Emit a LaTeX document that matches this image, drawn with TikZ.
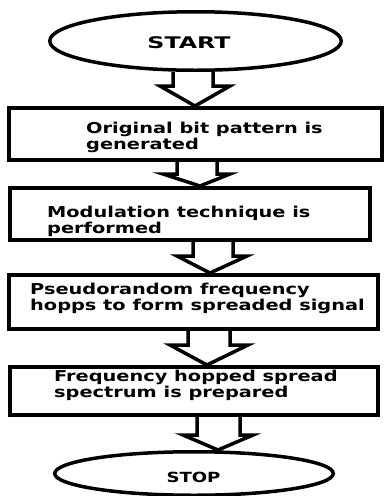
\documentclass[tikz,border=0pt]{standalone}
\usepackage{fontspec}
\usetikzlibrary{shapes.geometric}
\newfontfamily\boxfont[FakeStretch=1.29]{DejaVu Sans Bold}
\newfontfamily\termfont[FakeStretch=1.48]{DejaVu Sans Bold}
\tikzset{
  stepbox/.style={draw=black, line width=4pt, rectangle, inner sep=0pt, fill=white},
  termbox/.style={draw=black, line width=3.5pt, ellipse, inner sep=0pt, fill=white},
  steptext/.style={inner sep=0pt, anchor=base west, align=left, font=\boxfont\fontsize{15}{16}\selectfont},
  blockarrow/.style={draw=black, line width=3.5pt, line join=miter, fill=white},
}
\newcommand\barrow[8]{% from, to, shaftL, shaftR, neck y, headL, headR, tip x
  \draw[blockarrow] (#3,0 |- #1.south) -- (#3,#5) -- (#6,#5) -- (#8,0 |- #2.north)
     -- (#7,#5) -- (#4,#5) -- (#4,0 |- #1.south);
}
\begin{document}
\begin{tikzpicture}[x=1pt,y=-1pt]
\useasboundingbox (0,0) rectangle (384,496);
\fill[white] (0,0) rectangle (384,496);
% terminals and boxes
\node[termbox, minimum width=291.5pt, minimum height=58.5pt] (start) at (195.5,41) {};
\node[stepbox, minimum width=373pt, minimum height=52pt] (b1) at (195.5,134) {};
\node[stepbox, minimum width=360pt, minimum height=52pt] (b2) at (190,214) {};
\node[stepbox, minimum width=369pt, minimum height=54pt] (b3) at (193.5,302) {};
\node[stepbox, minimum width=368pt, minimum height=48pt] (b4) at (194,391) {};
\node[termbox, minimum width=278.5pt, minimum height=43.5pt] (stop) at (194,473.5) {};
% arrows
\barrow{start}{b1}{173}{213}{86}{160}{230}{195}
\barrow{b1}{b2}{177}{217}{174}{163}{230}{200}
\barrow{b2}{b3}{193}{233}{256}{177}{247}{210}
\barrow{b3}{b4}{188}{230}{345}{170}{248}{207}
\barrow{b4}{stop}{197}{240}{435}{183}{253}{218}
% texts (anchored at the baseline of the last line)
\node[inner sep=0pt, anchor=base, font=\termfont\fontsize{16}{18}\selectfont] (startlbl) at (189,48) {START};
\node[steptext] (t1) at (86,149) {Original bit pattern is\\generated};
\node[steptext] (t2) at (47,233) {Modulation technique is\\performed};
\node[steptext] (t3) at (30,310) {Pseudorandom frequency\\hopps to form spreaded signal};
\node[steptext] (t4) at (54,397) {Frequency hopped spread\\spectrum is prepared};
\node[inner sep=0pt, anchor=base, font=\boxfont\fontsize{14}{16}\selectfont] (stoplbl) at (193.5,482) {STOP};
\end{tikzpicture}
\end{document}
